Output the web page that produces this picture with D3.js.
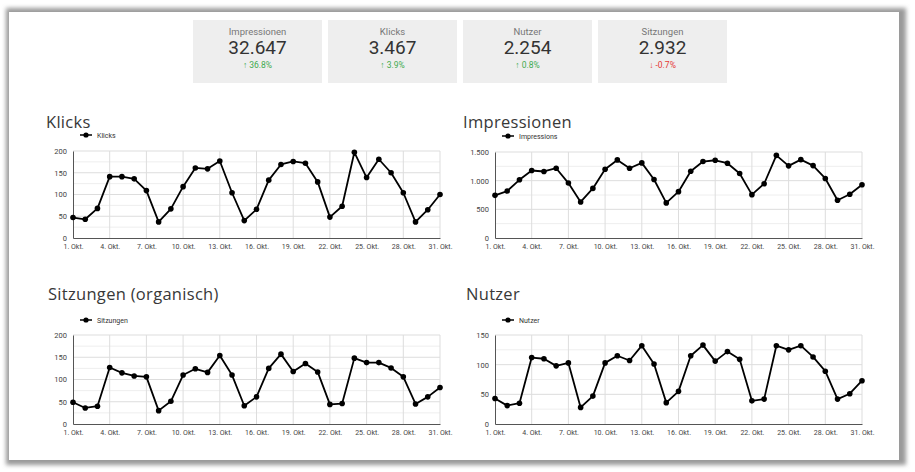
<!DOCTYPE html>
<html>
<head>
<meta charset="utf-8">
<script src="https://cdn.jsdelivr.net/npm/d3@7"></script>
<style>
  body { margin: 0; background: #fff; }
  svg { display: block; }
</style>
</head>
<body>
<script>
// KPI cards
const kpiLabels = ["Impressionen", "Klicks", "Nutzer", "Sitzungen"];
const kpiValues = ["32.647", "3.467", "2.254", "2.932"];
const kpiDeltas = [36.8, 3.9, 0.8, -0.7];

// days 1..31 October
const days = d3.range(1, 32);
const tickDays = [1, 4, 7, 10, 13, 16, 19, 22, 25, 28, 31];

const klicks = [47, 43, 68, 141, 141, 136, 109, 37, 67, 118, 161, 159, 177, 104, 40, 66,
  133, 169, 176, 172, 129, 48, 73, 197, 139, 181, 150, 104, 37, 65, 100];
const impressions = [744, 819, 1015, 1177, 1160, 1217, 958, 629, 865, 1200, 1362, 1217, 1310, 1021, 612, 808,
  1165, 1333, 1356, 1304, 1125, 756, 946, 1442, 1258, 1367, 1263, 1038, 658, 762, 929];
const sitzungen = [49, 36, 40, 127, 115, 108, 106, 30, 51, 110, 124, 116, 154, 110, 41, 61,
  125, 157, 118, 136, 117, 44, 46, 148, 138, 138, 126, 106, 45, 61, 82];
const nutzer = [43, 31, 35, 112, 110, 98, 103, 28, 47, 103, 115, 107, 132, 101, 36, 55,
  115, 133, 106, 122, 109, 39, 42, 132, 125, 132, 113, 89, 42, 51, 73];

const width = 915, height = 472;
const fmt = d3.formatLocale({decimal: ",", thousands: ".", grouping: [3], currency: ["", "€"]}).format(",");

const svg = d3.select("body").append("svg")
  .attr("width", width)
  .attr("height", height);

// frame with shadow
const defs = svg.append("defs");
defs.append("filter").attr("id", "blur")
  .attr("x", "-5%").attr("y", "-5%").attr("width", "110%").attr("height", "110%")
  .append("feGaussianBlur").attr("stdDeviation", 2);

svg.append("rect")
  .attr("x", 6).attr("y", 8).attr("width", 900).attr("height", 457)
  .attr("fill", "#9a9a9a")
  .attr("filter", "url(#blur)");
svg.append("rect")
  .attr("x", 9).attr("y", 12).attr("width", 890).attr("height", 448)
  .attr("fill", "#fff");

// KPI cards
const cardX = d3.scalePoint().domain(kpiLabels).range([193, 598]);
const cards = svg.append("g").selectAll("g")
  .data(kpiLabels)
  .join("g")
  .attr("transform", d => `translate(${cardX(d)},20)`);

cards.append("rect")
  .attr("width", 129).attr("height", 63)
  .attr("fill", "#eeeeee");

cards.append("text")
  .attr("x", 64.5).attr("y", 15)
  .attr("text-anchor", "middle")
  .attr("font-family", "Roboto").attr("font-size", 9.5)
  .attr("fill", "#777")
  .text(d => d);

cards.append("text")
  .attr("x", 64.5).attr("y", 34)
  .attr("text-anchor", "middle")
  .attr("font-family", "Roboto").attr("font-size", 19)
  .attr("fill", "#333")
  .text((d, i) => kpiValues[i]);

cards.append("text")
  .attr("x", 64.5).attr("y", 48)
  .attr("text-anchor", "middle")
  .attr("font-family", "Roboto").attr("font-size", 8.5)
  .attr("fill", (d, i) => kpiDeltas[i] >= 0 ? "#3faa4e" : "#e53935")
  .text((d, i) => (kpiDeltas[i] >= 0 ? "\u2191 " : "\u2193 ") + String(kpiDeltas[i]) + "%");

// line charts
function drawChart(cfg) {
  const g = svg.append("g");

  g.append("text")
    .attr("x", cfg.titleX).attr("y", cfg.titleY)
    .attr("font-family", "Open Sans").attr("font-size", 16.5)
    .attr("letter-spacing", 0.3)
    .attr("fill", "#383838")
    .text(cfg.title);

  // legend
  const lg = g.append("g").attr("transform", `translate(${cfg.left + 7},${cfg.legendY})`);
  lg.append("line").attr("x1", 0).attr("x2", 12).attr("stroke", "#000").attr("stroke-width", 1.5);
  lg.append("circle").attr("cx", 6).attr("r", 2.6).attr("fill", "#000");
  lg.append("text").attr("x", 17).attr("y", 2.5)
    .attr("font-family", "Roboto").attr("font-size", 7)
    .attr("fill", "#333")
    .text(cfg.legend);

  const x = d3.scaleLinear().domain([1, 31]).range([cfg.left, cfg.right]);
  const y = d3.scaleLinear().domain([0, cfg.max]).range([cfg.bottom, cfg.top]);

  // minor horizontal grid
  g.append("g").selectAll("line")
    .data(d3.range(cfg.step / 2, cfg.max, cfg.step))
    .join("line")
    .attr("x1", cfg.left).attr("x2", cfg.right)
    .attr("y1", d => y(d)).attr("y2", d => y(d))
    .attr("stroke", "#eeeeee");

  // major horizontal grid
  const yTicks = d3.range(0, cfg.max + 1, cfg.step);
  g.append("g").selectAll("line")
    .data(yTicks.slice(1))
    .join("line")
    .attr("x1", cfg.left).attr("x2", cfg.right)
    .attr("y1", d => y(d)).attr("y2", d => y(d))
    .attr("stroke", "#dddddd");

  // vertical grid
  g.append("g").selectAll("line")
    .data(tickDays.slice(1))
    .join("line")
    .attr("x1", d => x(d)).attr("x2", d => x(d))
    .attr("y1", cfg.top).attr("y2", cfg.bottom)
    .attr("stroke", "#dddddd");

  // axes
  const yAxis = g.append("g")
    .attr("transform", `translate(${cfg.left},0)`)
    .call(d3.axisLeft(y).tickValues(yTicks).tickFormat(fmt).tickSize(0).tickPadding(6));
  yAxis.select(".domain").attr("stroke", "#555");
  yAxis.selectAll("text").attr("font-family", "Roboto").attr("font-size", 7.5).attr("fill", "#444");

  const xAxis = g.append("g")
    .attr("transform", `translate(0,${cfg.bottom})`)
    .call(d3.axisBottom(x).tickValues(tickDays).tickFormat(d => d + ". Okt.").tickSize(0).tickPadding(6));
  xAxis.select(".domain").attr("stroke", "#555");
  xAxis.selectAll("text").attr("font-family", "Roboto").attr("font-size", 7).attr("fill", "#444");

  // series
  const line = d3.line().x((d, i) => x(days[i])).y(d => y(d));
  g.append("path")
    .datum(cfg.values)
    .attr("d", line)
    .attr("fill", "none")
    .attr("stroke", "#000")
    .attr("stroke-width", 1.8)
    .attr("stroke-linejoin", "round");

  g.append("g").selectAll("circle")
    .data(cfg.values)
    .join("circle")
    .attr("cx", (d, i) => x(days[i]))
    .attr("cy", d => y(d))
    .attr("r", 2.8)
    .attr("fill", "#000");
}

drawChart({title: "Klicks", titleX: 46, titleY: 128, legend: "Klicks", legendY: 135,
  left: 73, right: 440, top: 151, bottom: 238, max: 200, step: 50, values: klicks});
drawChart({title: "Impressionen", titleX: 463, titleY: 128, legend: "Impressions", legendY: 136,
  left: 495, right: 862, top: 152, bottom: 238, max: 1500, step: 500, values: impressions});
drawChart({title: "Sitzungen (organisch)", titleX: 48, titleY: 300, legend: "Sitzungen", legendY: 320,
  left: 73, right: 440, top: 335, bottom: 424, max: 200, step: 50, values: sitzungen});
drawChart({title: "Nutzer", titleX: 466, titleY: 300, legend: "Nutzer", legendY: 320,
  left: 495, right: 862, top: 335, bottom: 424, max: 150, step: 50, values: nutzer});
</script>
</body>
</html>
